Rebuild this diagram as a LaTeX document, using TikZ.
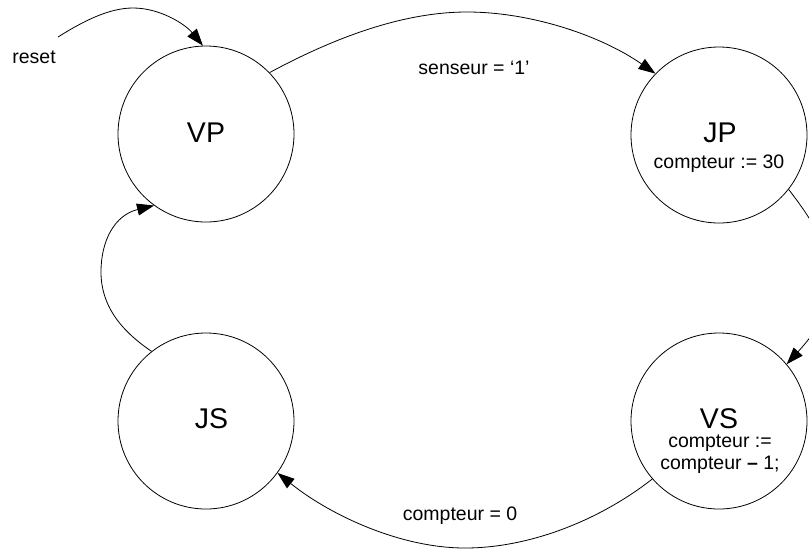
\documentclass[tikz,border=0pt]{standalone}
\usepackage{fontspec}
\setmainfont{Liberation Sans}
\usetikzlibrary{arrows.meta}
\tikzset{
  state/.style={draw, circle, line width=0.8pt, minimum size=176pt, inner sep=0pt},
  big/.style={font=\fontsize{28.5}{30}\selectfont, anchor=base, inner sep=0pt},
  small/.style={font=\fontsize{19.5}{21}\selectfont, anchor=base, inner sep=0pt},
  trans/.style={line width=0.8pt, -{Triangle[length=17pt,width=12pt]}}
}
\begin{document}
\begin{tikzpicture}[x=1pt,y=-1pt]
\useasboundingbox (0,0) rectangle (809,550);
\clip (0,0) rectangle (809,550);
\fill[white] (0,0) rectangle (809,550);

% states
\node[state] (VP) at (206,134) {};
\node[state] (JP) at (719,135) {};
\node[state] (JS) at (206,421) {};
\node[state] (VS) at (719,421) {};

% state names and actions
\node[big] (tVP) at (206,142) {VP};
\node[big] (tJP) at (720,142) {JP};
\node[small] (aJP) at (719,168) {compteur := 30};
\node[big] (tJS) at (211.5,428) {JS};
\node[big] (tVS) at (719,428) {VS};
\node[small] (aVS1) at (720,447) {compteur :=};
\node[small] (aVS2) at (720,469) {compteur \textbf{–} 1;};

% transition labels
\node[small] (lreset) at (34,63) {reset};
\node[small] (lsens) at (474,74) {senseur = ‘1’};
\node[small] (lcnt) at (460,520) {compteur = 0};

% reset arrow
\coordinate (r0) at (58,37);
\draw[trans] (r0) .. controls (85,20) and (110,8) .. (133,8)
  .. controls (160,8) and (185,24) .. (VP.92);

% VP -> JP
\draw[trans] (VP.44) .. controls (330,40) and (400,12) .. (467,12)
  .. controls (530,12) and (600,35) .. (JP.136);

% JP -> VS
\draw[trans] (JP.-38) .. controls (845,262) and (845,300) .. (VS.40);

% VS -> JS
\draw[trans] (VS.-139) .. controls (600,520) and (530,548) .. (465,548)
  .. controls (400,548) and (330,515) .. (JS.-36);

% JS -> VP
\draw[trans] (JS.128) .. controls (120,330) and (101,305) .. (101,272)
  .. controls (101,240) and (115,215) .. (VP.-126);
\end{tikzpicture}
\end{document}
